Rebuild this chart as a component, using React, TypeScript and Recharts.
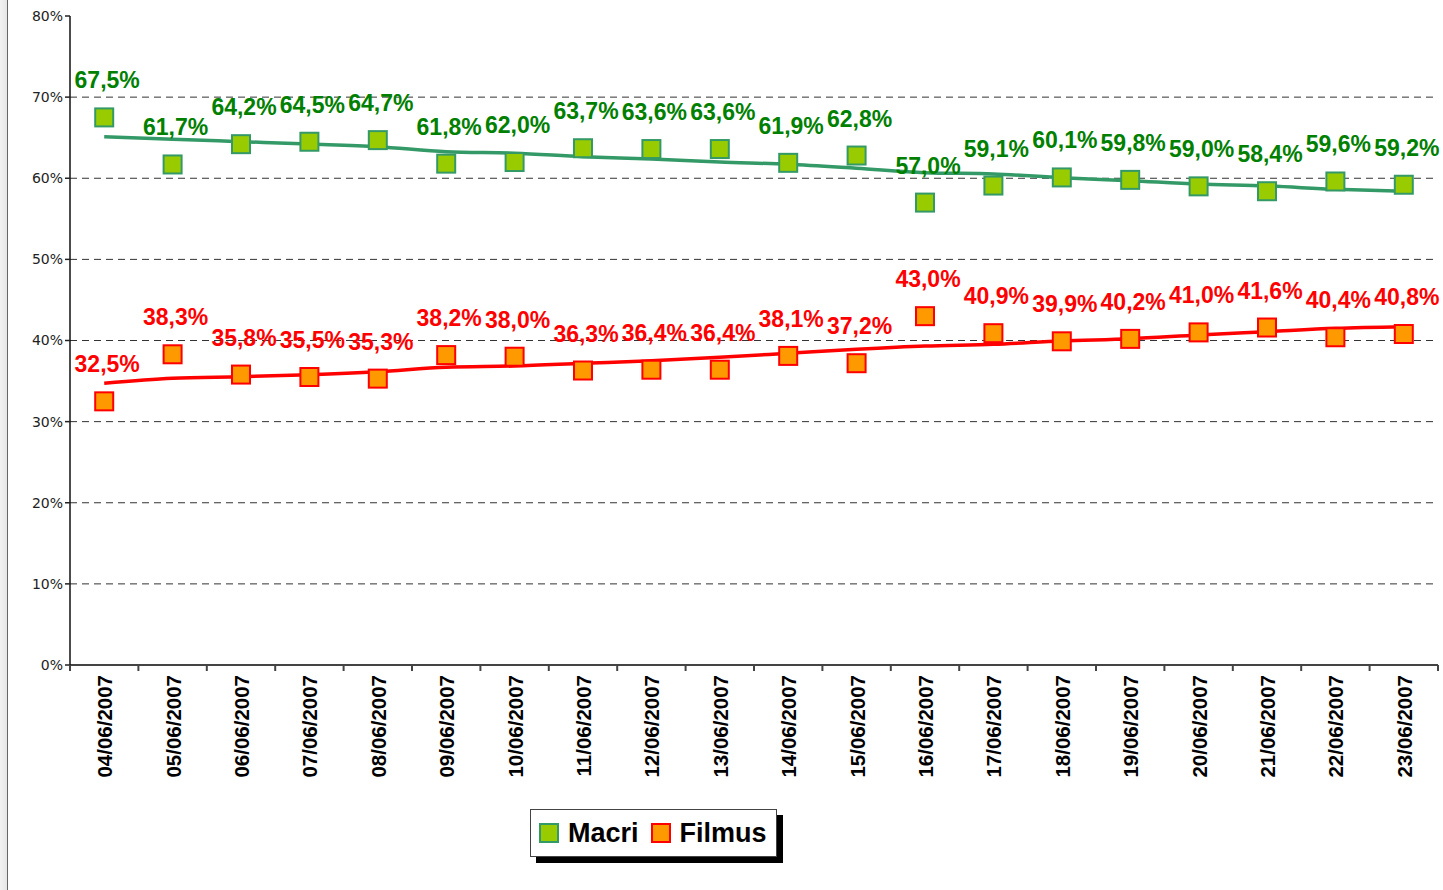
import React from 'react';
import {
  ComposedChart, Line, XAxis, YAxis, ReferenceLine, Legend, LabelList,
} from 'recharts';

const dates = [
  '04/06/2007', '05/06/2007', '06/06/2007', '07/06/2007', '08/06/2007',
  '09/06/2007', '10/06/2007', '11/06/2007', '12/06/2007', '13/06/2007',
  '14/06/2007', '15/06/2007', '16/06/2007', '17/06/2007', '18/06/2007',
  '19/06/2007', '20/06/2007', '21/06/2007', '22/06/2007', '23/06/2007',
];
const macri = [67.5, 61.7, 64.2, 64.5, 64.7, 61.8, 62.0, 63.7, 63.6, 63.6, 61.9, 62.8, 57.0, 59.1, 60.1, 59.8, 59.0, 58.4, 59.6, 59.2];
const filmus = [32.5, 38.3, 35.8, 35.5, 35.3, 38.2, 38.0, 36.3, 36.4, 36.4, 38.1, 37.2, 43.0, 40.9, 39.9, 40.2, 41.0, 41.6, 40.4, 40.8];
const macriTrend = [65.12, 64.8, 64.51, 64.22, 63.89, 63.27, 63.08, 62.66, 62.37, 62.0, 61.72, 61.23, 60.69, 60.53, 60.07, 59.7, 59.29, 59.05, 58.64, 58.39];
const filmusTrend = [34.73, 35.34, 35.54, 35.79, 36.16, 36.7, 36.86, 37.19, 37.51, 37.93, 38.42, 38.92, 39.32, 39.53, 39.94, 40.22, 40.68, 41.09, 41.5, 41.7];
const yTicks = [0, 10, 20, 30, 40, 50, 60, 70, 80];
const gridValues = [10, 20, 30, 40, 50, 60, 70];
const seriesNames = ['Macri', 'Filmus'];

const data = dates.map((d, i) => ({
  date: d,
  macri: macri[i],
  filmus: filmus[i],
  macriTrend: macriTrend[i],
  filmusTrend: filmusTrend[i],
}));

const GREEN_FILL = '#99CC00';
const GREEN_EDGE = '#339966';
const GREEN_TEXT = '#008000';
const ORANGE_FILL = '#FF9900';
const RED = '#FF0000';
const FONT = 'Arial, "Liberation Sans", sans-serif';

const fmt = (v: number) => v.toFixed(1).replace('.', ',') + '%';

const makeDot = (fill: string, stroke: string) => (props: any) => {
  const { cx, cy, index } = props;
  if (cx == null || cy == null) return <g key={`d-${index}`} />;
  return (
    <rect key={`d-${index}`} x={cx - 9} y={cy - 9} width={18} height={18}
      fill={fill} stroke={stroke} strokeWidth={2} />
  );
};

const makeLabel = (color: string) => (props: any) => {
  const { x, y, value, index } = props;
  return (
    <text key={`l-${index}`} x={x + 3} y={y - 29} textAnchor="middle" fill={color}
      fontFamily={FONT} fontWeight="bold" fontSize={23}>
      {fmt(value)}
    </text>
  );
};

const HALF_BAND = 34.2;

const XTick = (props: any) => {
  const { x, y, payload, index } = props;
  return (
    <g>
      <line x1={x - HALF_BAND} y1={y} x2={x - HALF_BAND} y2={y + 6} stroke="#444" strokeWidth={2} />
      {index === dates.length - 1 && (
        <line x1={x + HALF_BAND} y1={y} x2={x + HALF_BAND} y2={y + 6} stroke="#444" strokeWidth={2} />
      )}
      <text transform={`translate(${x + 8},${y + 10}) rotate(-90)`} textAnchor="end"
        fontFamily={FONT} fontWeight="bold" fontSize={20.5} fill="#000">
        {payload.value}
      </text>
    </g>
  );
};

const LegendBox = () => {
  const items = [
    { name: seriesNames[0], fill: GREEN_FILL, edge: GREEN_EDGE },
    { name: seriesNames[1], fill: ORANGE_FILL, edge: RED },
  ];
  return (
    <div style={{
      boxSizing: 'border-box', width: 247, height: 48, border: '1px solid #444',
      background: '#fff', boxShadow: '6px 6px 0 #000', display: 'flex',
      alignItems: 'center', paddingLeft: 8,
    }}>
      {items.map((it, i) => (
        <div key={it.name} style={{ display: 'flex', alignItems: 'center', marginRight: i === 0 ? 12 : 0 }}>
          <div style={{
            boxSizing: 'border-box', width: 20, height: 20, background: it.fill,
            border: `2px solid ${it.edge}`, marginRight: 9,
          }} />
          <span style={{ fontFamily: FONT, fontWeight: 'bold', fontSize: 27, color: '#000', lineHeight: '30px' }}>
            {it.name}
          </span>
        </div>
      ))}
    </div>
  );
};

export default function App() {
  return (
    <div style={{ position: 'absolute', left: 0, top: 0, width: 1443, height: 890, background: '#fff' }}>
      <div style={{
        position: 'absolute', left: 0, top: 0, width: 7, height: 890,
        background: 'linear-gradient(90deg, #f2f2f2, #e6e6e6)', borderRight: '1px solid #666',
      }} />
      <div style={{ position: 'absolute', left: 0, top: 0 }}>
        <ComposedChart width={1443} height={890} data={data}
          margin={{ top: 16, right: 5, left: 8, bottom: 105 }}>
          <XAxis dataKey="date" xAxisId="top" orientation="top" height={0} scale="band"
            tick={false} tickLine={false} axisLine={{ stroke: '#999', strokeWidth: 1.5 }} />
          <YAxis yAxisId="r" orientation="right" width={0} type="number" domain={[0, 80]}
            tick={false} tickLine={false} axisLine={{ stroke: '#999', strokeWidth: 2 }} />
          {gridValues.map((v) => (
            <ReferenceLine key={v} y={v} stroke="#333" strokeDasharray="7 5" strokeWidth={1} />
          ))}
          <XAxis dataKey="date" interval={0} height={120} tickSize={0} tickMargin={0} scale="band"
            tick={<XTick />} tickLine={false}
            axisLine={{ stroke: '#444', strokeWidth: 2 }} />
          <YAxis type="number" domain={[0, 80]} ticks={yTicks} width={62}
            tickFormatter={(v: number) => `${v}%`}
            tick={{ fontFamily: '"DejaVu Sans", sans-serif', fontSize: 14, fill: '#222' }}
            tickSize={5} tickMargin={2}
            tickLine={{ stroke: '#222', strokeWidth: 1.5 }}
            axisLine={{ stroke: '#111', strokeWidth: 1.5 }} />
          <Line dataKey="macri" stroke="none" isAnimationActive={false}
            dot={makeDot(GREEN_FILL, GREEN_EDGE)} activeDot={false}>
            <LabelList dataKey="macri" content={makeLabel(GREEN_TEXT)} />
          </Line>
          <Line dataKey="filmus" stroke="none" isAnimationActive={false}
            dot={makeDot(ORANGE_FILL, RED)} activeDot={false}>
            <LabelList dataKey="filmus" content={makeLabel(RED)} />
          </Line>
          <Line dataKey="macriTrend" type="monotone" stroke={GREEN_EDGE} strokeWidth={3.5}
            dot={false} activeDot={false} isAnimationActive={false} />
          <Line dataKey="filmusTrend" type="monotone" stroke={RED} strokeWidth={3.5}
            dot={false} activeDot={false} isAnimationActive={false} />
          <Legend layout="horizontal" verticalAlign="middle" align="center"
            wrapperStyle={{ left: 530, top: 809, width: 260, height: 60 }}
            content={<LegendBox />} />
        </ComposedChart>
      </div>
    </div>
  );
}
